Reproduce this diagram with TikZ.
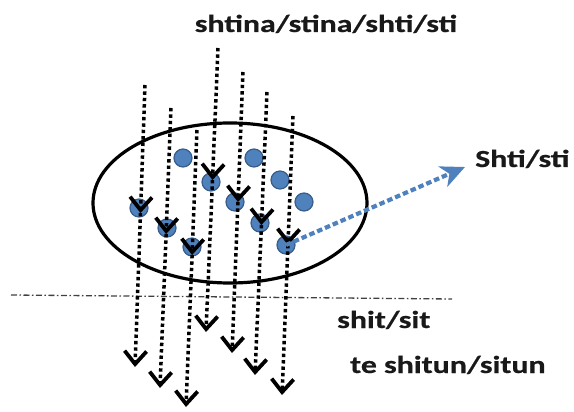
\documentclass[tikz,border=0pt]{standalone}
\usepackage{fontspec}
\newfontfamily\lblfont[FakeStretch=1.3,FakeBold=0.6]{Carlito}
\usetikzlibrary{arrows.meta,shapes.geometric}
\definecolor{dotblue}{HTML}{4F81BD}
\definecolor{dotedge}{HTML}{385D8A}
\begin{document}
\begin{tikzpicture}[x=1pt,y=-1pt,
  lab/.style={font=\lblfont\bfseries\fontsize{24.5}{28}\selectfont, inner sep=0pt, text=black!90},
  blob/.style={circle, fill=dotblue, draw=dotedge, line width=1.2pt, minimum size=18pt, inner sep=0pt},
  ray/.style={line width=3.5pt, dash pattern=on 3.4pt off 3pt, -{Straight Barb[length=13pt,width=22pt,line width=3.8pt]}},
  bluearrow/.style={dotblue, line width=4.2pt, dash pattern=on 5.5pt off 3pt, -{Stealth[length=24pt,width=22pt,inset=7pt]}},
  ground/.style={line width=1.3pt, black!75, dash pattern=on 6pt off 2.5pt on 1.5pt off 2.5pt},
  ring/.style={line width=3.2pt, draw=black}
]
\useasboundingbox (0,0) rectangle (574,412);

% ellipse
\node[ring, ellipse, minimum width=274pt, minimum height=160pt, inner sep=0pt] (ell) at (230,203) {};

% dots
\node[blob] (d1) at (139,208) {};
\node[blob] (d2) at (167,228) {};
\node[blob] (d3) at (192,247) {};
\node[blob] (d4) at (211,182) {};
\node[blob] (d5) at (235,202) {};
\node[blob] (d6) at (260,223) {};
\node[blob] (d7) at (286,245) {};
\node[blob] (e1) at (183,158) {};
\node[blob] (e2) at (254,158) {};
\node[blob] (e3) at (280,180) {};
\node[blob] (e4) at (304,202) {};

% ground line
\coordinate (g1) at (11,295);
\coordinate (g2) at (452,299);
\draw[ground] (g1) -- (g2);

% rays: top, mid tip, bottom tip
\coordinate (t1) at (145,85);  \coordinate (m1) at (140.5,213); \coordinate (b1) at (135,367);
\coordinate (t2) at (171,108); \coordinate (m2) at (166.1,234); \coordinate (b2) at (160,388);
\coordinate (t3) at (197,130); \coordinate (m3) at (192.1,255); \coordinate (b3) at (186,407);
\coordinate (t4) at (218,48);  \coordinate (m4) at (212.5,180); \coordinate (b4) at (206,332);
\coordinate (t5) at (243,72);  \coordinate (m5) at (238,202);   \coordinate (b5) at (232,353);
\coordinate (t6) at (267,92);  \coordinate (m6) at (261.4,225); \coordinate (b6) at (255,375);
\coordinate (t7) at (293,116); \coordinate (m7) at (288,245);   \coordinate (b7) at (282,395);

\foreach \i in {1,...,7} {
  \draw[ray] (t\i) -- (m\i);
  \draw[ray] (m\i) -- (b\i);
}

% blue arrow
\coordinate (bt) at (465,167);
\draw[bluearrow] (d7.center) -- (bt);

% labels
\node[lab, anchor=base] (top) at (326,32) {shtina/stina/shti/sti};
\node[lab, anchor=base west] (refl) at (475,167) {Shti/sti};
\node[lab, anchor=base west] (sit) at (337,328) {shit/sit};
\node[lab, anchor=base west] (situn) at (350,373) {te shitun/situn};
\end{tikzpicture}
\end{document}
